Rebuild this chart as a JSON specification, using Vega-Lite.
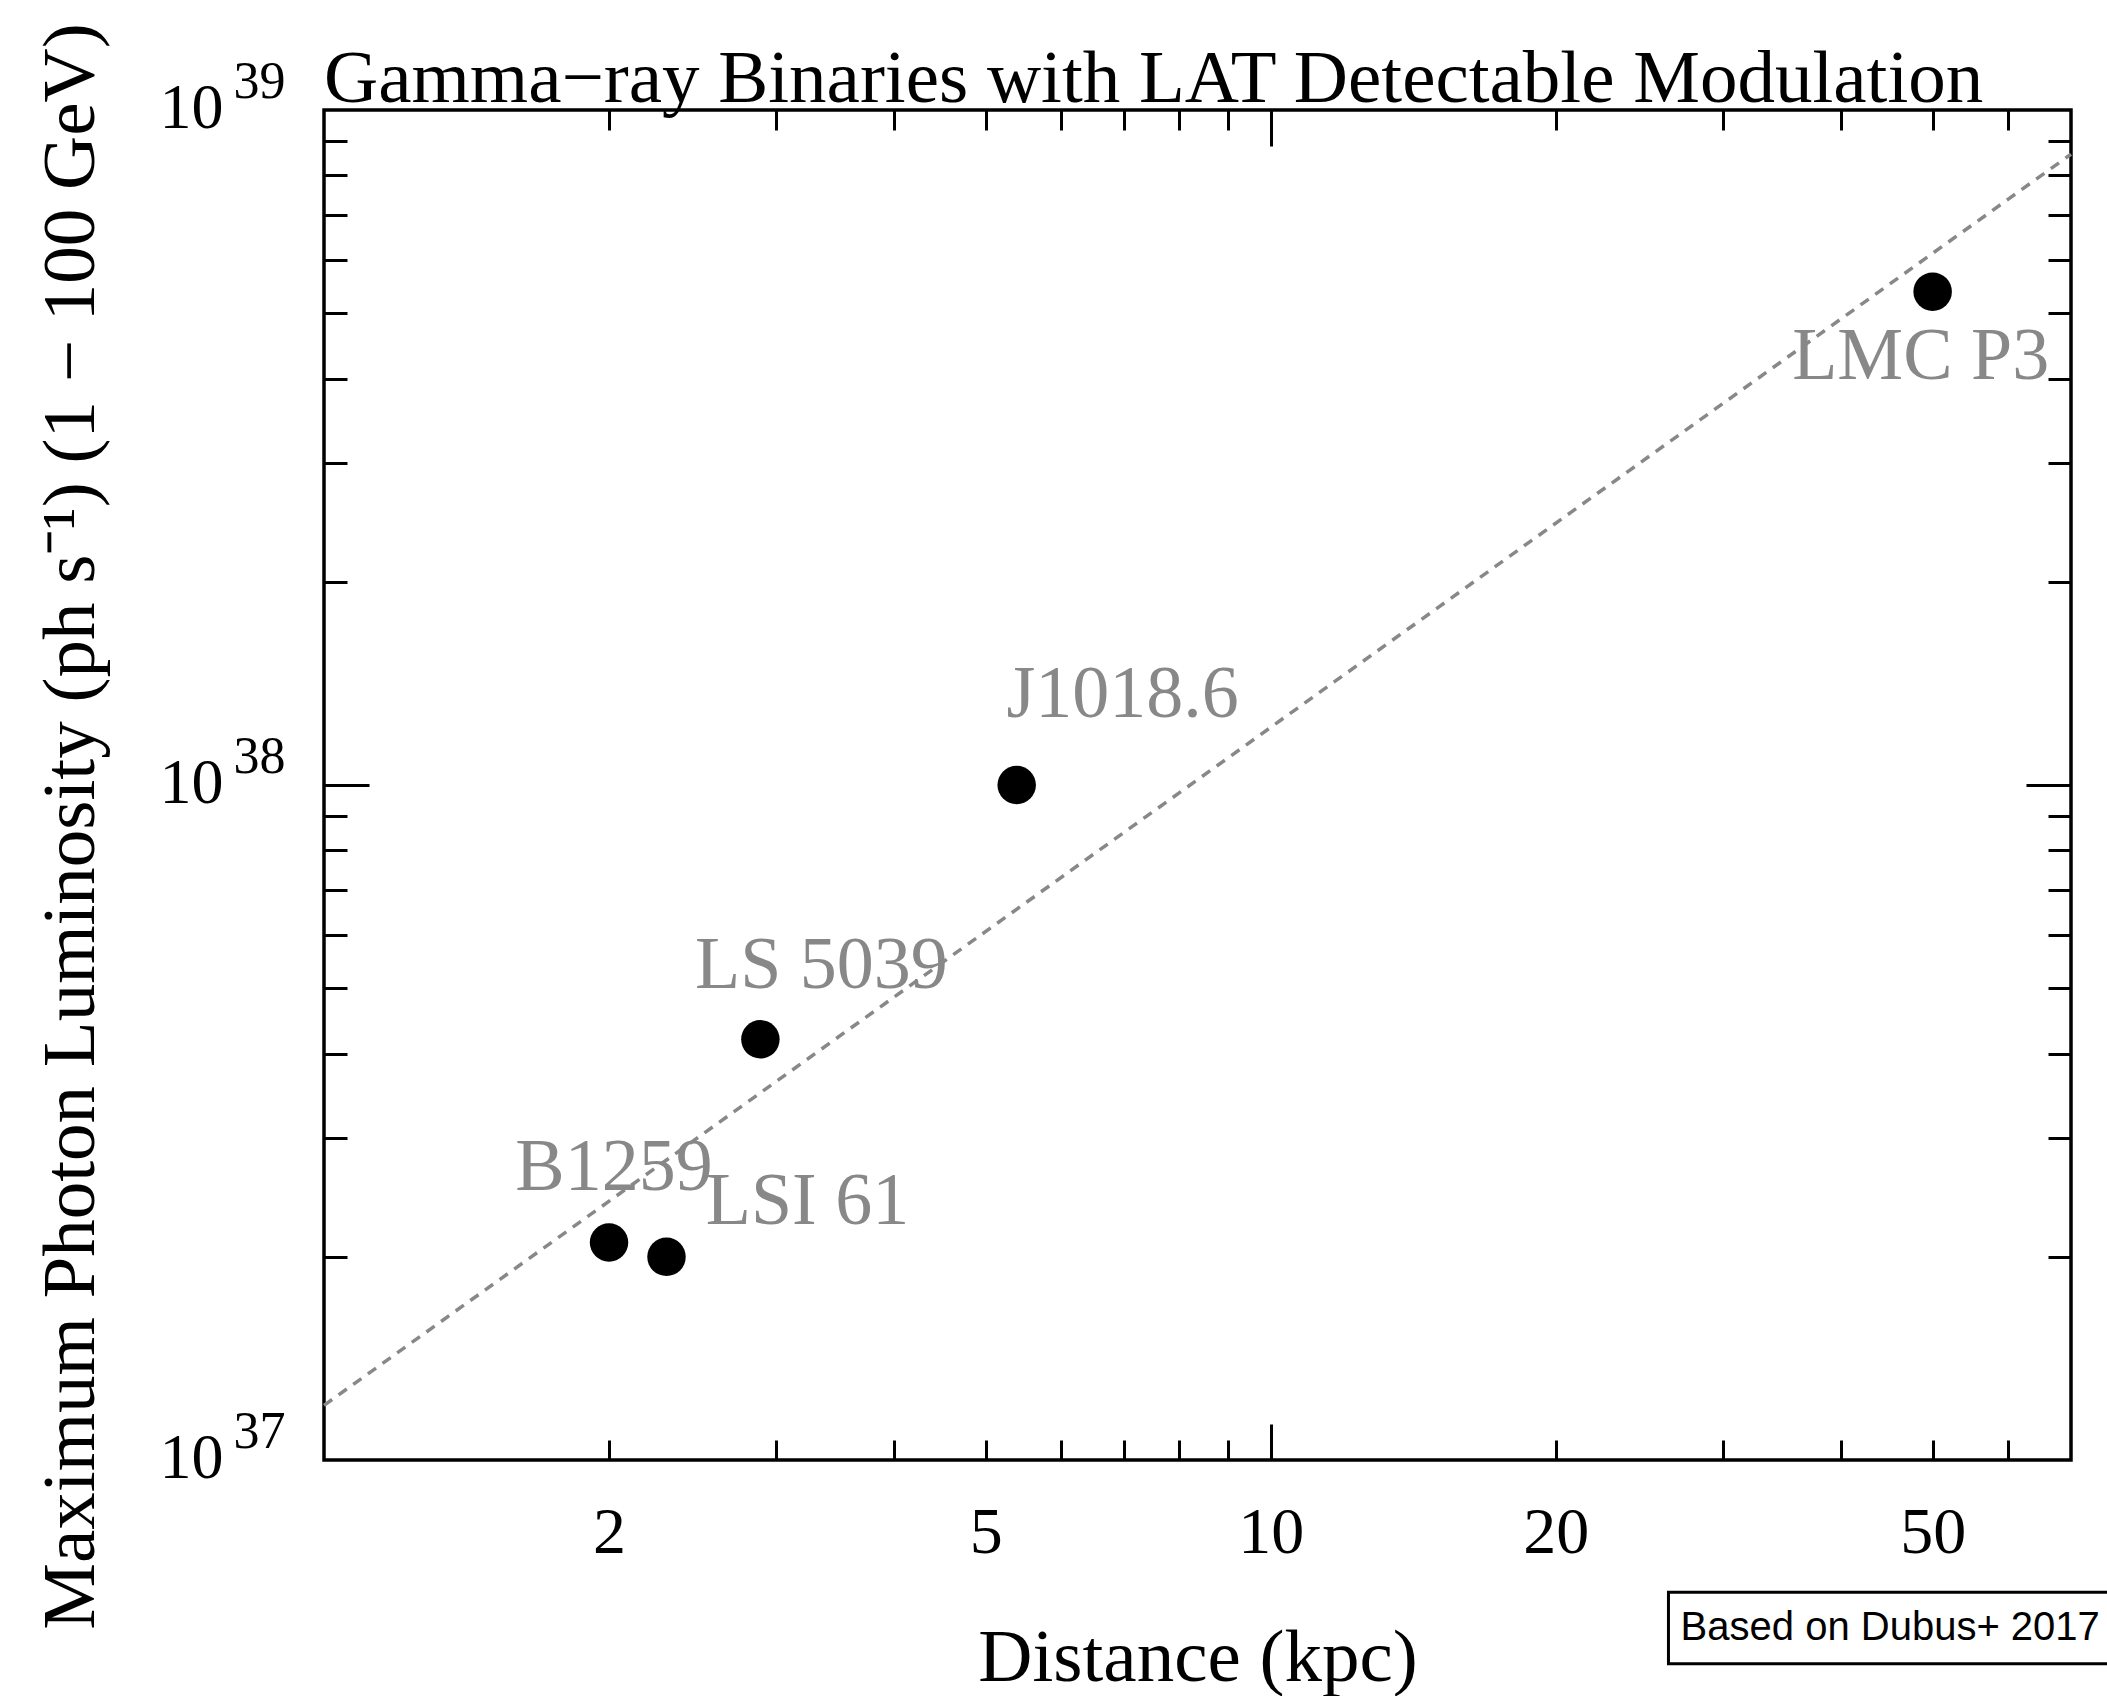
{
  "$schema": "https://vega.github.io/schema/vega-lite/v6.json",
  "width": 1747,
  "height": 1350,
  "autosize": {"type": "none"},
  "padding": {"left": 324, "top": 110, "right": 36, "bottom": 236},
  "background": "white",
  "title": {
    "text": "Gamma\u2212ray Binaries with LAT Detectable Modulation",
    "anchor": "start",
    "frame": "group",
    "font": "Liberation Serif",
    "fontSize": 75,
    "fontWeight": "normal",
    "color": "black",
    "baseline": "alphabetic",
    "offset": 8,
    "dy": 162
  },
  "config": {
    "view": {"stroke": "black", "strokeWidth": 3.5},
    "axis": {
      "grid": false,
      "domain": false,
      "tickColor": "black",
      "tickWidth": 3,
      "labelFont": "Liberation Serif",
      "labelColor": "black",
      "titleFont": "Liberation Serif",
      "titleColor": "black",
      "titleFontWeight": "normal",
      "labelFlush": false,
      "labelBound": false,
      "labelOverlap": false
    }
  },
  "data": {
    "values": [
      {"name": "B1259", "distance": 2.0, "luminosity": 2.10e37},
      {"name": "LSI 61", "distance": 2.30, "luminosity": 2.0e37},
      {"name": "LS 5039", "distance": 2.89, "luminosity": 4.20e37},
      {"name": "J1018.6", "distance": 5.39, "luminosity": 1.0e38},
      {"name": "LMC P3", "distance": 50, "luminosity": 5.38e38}
    ]
  },
  "resolve": {"axis": {"x": "independent", "y": "independent"}},
  "layer": [
    {
      "data": {"values": [
        {"distance": 1, "luminosity": 1.205e37},
        {"distance": 70, "luminosity": 8.6e38}
      ]},
      "mark": {"type": "line", "color": "#888888", "strokeWidth": 3.5, "strokeDash": [10, 8]},
      "encoding": {
        "x": {"field": "distance", "type": "quantitative", "scale": {"type": "log", "domain": [1, 70]},
          "axis": {"orient": "bottom", "values": [2, 5, 10, 20, 50], "ticks": false, "labelFontSize": 66,
            "labelBaseline": "alphabetic", "labelPadding": 92,
            "title": "Distance (kpc)", "titleFontSize": 75, "titleBaseline": "alphabetic", "titleY": 220}},
        "y": {"field": "luminosity", "type": "quantitative", "scale": {"type": "log", "domain": [1e37, 1e39]},
          "axis": {"orient": "left", "values": [1e37, 1e38, 1e39], "ticks": false, "labelFontSize": 64,
            "labelExpr": "'10'",
            "labelBaseline": "alphabetic", "labelOffset": 17, "labelPadding": 101,
            "title": "Maximum Photon Luminosity (ph s\u207b\u00b9) (1 \u2212 100 GeV)", "titleFontSize": 75,
            "titleBaseline": "alphabetic", "titleX": -231, "titleY": 716, "titleAngle": 270}}
      }
    },
    {
      "mark": {"type": "circle", "color": "black", "opacity": 1, "size": 1480},
      "encoding": {
        "x": {"field": "distance", "type": "quantitative", "scale": {"type": "log", "domain": [1, 70]},
          "axis": {"orient": "bottom", "values": [2, 3, 4, 5, 6, 7, 8, 9, 20, 30, 40, 50, 60], "labels": false, "tickSize": -20, "title": null}},
        "y": {"field": "luminosity", "type": "quantitative", "scale": {"type": "log", "domain": [1e37, 1e39]},
          "axis": {"orient": "left", "values": [2e37, 3e37, 4e37, 5e37, 6e37, 7e37, 8e37, 9e37, 2e38, 3e38, 4e38, 5e38, 6e38, 7e38, 8e38, 9e38], "labels": false, "tickSize": -23, "title": null}}
      }
    },
    {
      "transform": [{"filter": "datum.name === 'B1259'"}],
      "mark": {"type": "text", "font": "Liberation Serif", "fontSize": 74, "color": "#888888", "align": "center", "baseline": "alphabetic", "dx": 5, "dy": -53},
      "encoding": {
        "x": {"field": "distance", "type": "quantitative", "scale": {"type": "log", "domain": [1, 70]},
          "axis": {"orient": "bottom", "values": [10], "labels": false, "tickSize": -36, "title": null}},
        "y": {"field": "luminosity", "type": "quantitative", "scale": {"type": "log", "domain": [1e37, 1e39]},
          "axis": {"orient": "left", "values": [1e38], "labels": false, "tickSize": -45, "title": null}},
        "text": {"field": "name"}
      }
    },
    {
      "transform": [{"filter": "datum.name === 'LSI 61'"}],
      "mark": {"type": "text", "font": "Liberation Serif", "fontSize": 74, "color": "#888888", "align": "center", "baseline": "alphabetic", "dx": 141, "dy": -33},
      "encoding": {
        "x": {"field": "distance", "type": "quantitative", "scale": {"type": "log", "domain": [1, 70]},
          "axis": {"orient": "top", "values": [2, 3, 4, 5, 6, 7, 8, 9, 20, 30, 40, 50, 60], "labels": false, "tickSize": -20, "title": null}},
        "y": {"field": "luminosity", "type": "quantitative", "scale": {"type": "log", "domain": [1e37, 1e39]},
          "axis": {"orient": "right", "values": [2e37, 3e37, 4e37, 5e37, 6e37, 7e37, 8e37, 9e37, 2e38, 3e38, 4e38, 5e38, 6e38, 7e38, 8e38, 9e38], "labels": false, "tickSize": -23, "title": null}},
        "text": {"field": "name"}
      }
    },
    {
      "transform": [{"filter": "datum.name === 'LS 5039'"}],
      "mark": {"type": "text", "font": "Liberation Serif", "fontSize": 74, "color": "#888888", "align": "center", "baseline": "alphabetic", "dx": 61, "dy": -51},
      "encoding": {
        "x": {"field": "distance", "type": "quantitative", "scale": {"type": "log", "domain": [1, 70]},
          "axis": {"orient": "top", "values": [10], "labels": false, "tickSize": -36, "title": null}},
        "y": {"field": "luminosity", "type": "quantitative", "scale": {"type": "log", "domain": [1e37, 1e39]},
          "axis": {"orient": "right", "values": [1e38], "labels": false, "tickSize": -45, "title": null}},
        "text": {"field": "name"}
      }
    },
    {
      "transform": [{"filter": "datum.name === 'J1018.6'"}],
      "mark": {"type": "text", "font": "Liberation Serif", "fontSize": 74, "color": "#888888", "align": "center", "baseline": "alphabetic", "dx": 106, "dy": -68},
      "encoding": {
        "x": {"field": "distance", "type": "quantitative", "scale": {"type": "log", "domain": [1, 70]}, "axis": null},
        "y": {"field": "luminosity", "type": "quantitative", "scale": {"type": "log", "domain": [1e37, 1e39]},
          "axis": {"orient": "left", "values": [1e37, 1e38, 1e39], "ticks": false, "labelFontSize": 52,
            "labelExpr": "datum.value >= 9.9e38 ? '39' : datum.value >= 9.9e37 ? '38' : '37'",
            "labelBaseline": "alphabetic", "labelOffset": -13, "labelPadding": 39, "title": null}},
        "text": {"field": "name"}
      }
    },
    {
      "transform": [{"filter": "datum.name === 'LMC P3'"}],
      "mark": {"type": "text", "font": "Liberation Serif", "fontSize": 74, "color": "#888888", "align": "center", "baseline": "alphabetic", "dx": -12, "dy": 87},
      "encoding": {
        "x": {"field": "distance", "type": "quantitative", "scale": {"type": "log", "domain": [1, 70]}, "axis": null},
        "y": {"field": "luminosity", "type": "quantitative", "scale": {"type": "log", "domain": [1e37, 1e39]}, "axis": null},
        "text": {"field": "name"}
      }
    },
    {
      "data": {"values": [{"note": "Based on Dubus+ 2017"}]},
      "mark": {"type": "rect", "fill": "white", "stroke": "black", "strokeWidth": 3},
      "encoding": {
        "x": {"datum": 26.3, "type": "quantitative", "scale": {"type": "log", "domain": [1, 70]}, "axis": null},
        "x2": {"datum": 78},
        "y": {"datum": 6.37e36, "type": "quantitative", "scale": {"type": "log", "domain": [1e37, 1e39]}, "axis": null},
        "y2": {"datum": 4.99e36}
      }
    },
    {
      "data": {"values": [{"note": "Based on Dubus+ 2017"}]},
      "mark": {"type": "text", "font": "Liberation Sans", "fontSize": 40, "color": "black", "align": "center", "baseline": "middle"},
      "encoding": {
        "x": {"datum": 45.1, "type": "quantitative", "scale": {"type": "log", "domain": [1, 70]}, "axis": null},
        "y": {"datum": 5.64e36, "type": "quantitative", "scale": {"type": "log", "domain": [1e37, 1e39]}, "axis": null},
        "text": {"field": "note"}
      }
    }
  ]
}
